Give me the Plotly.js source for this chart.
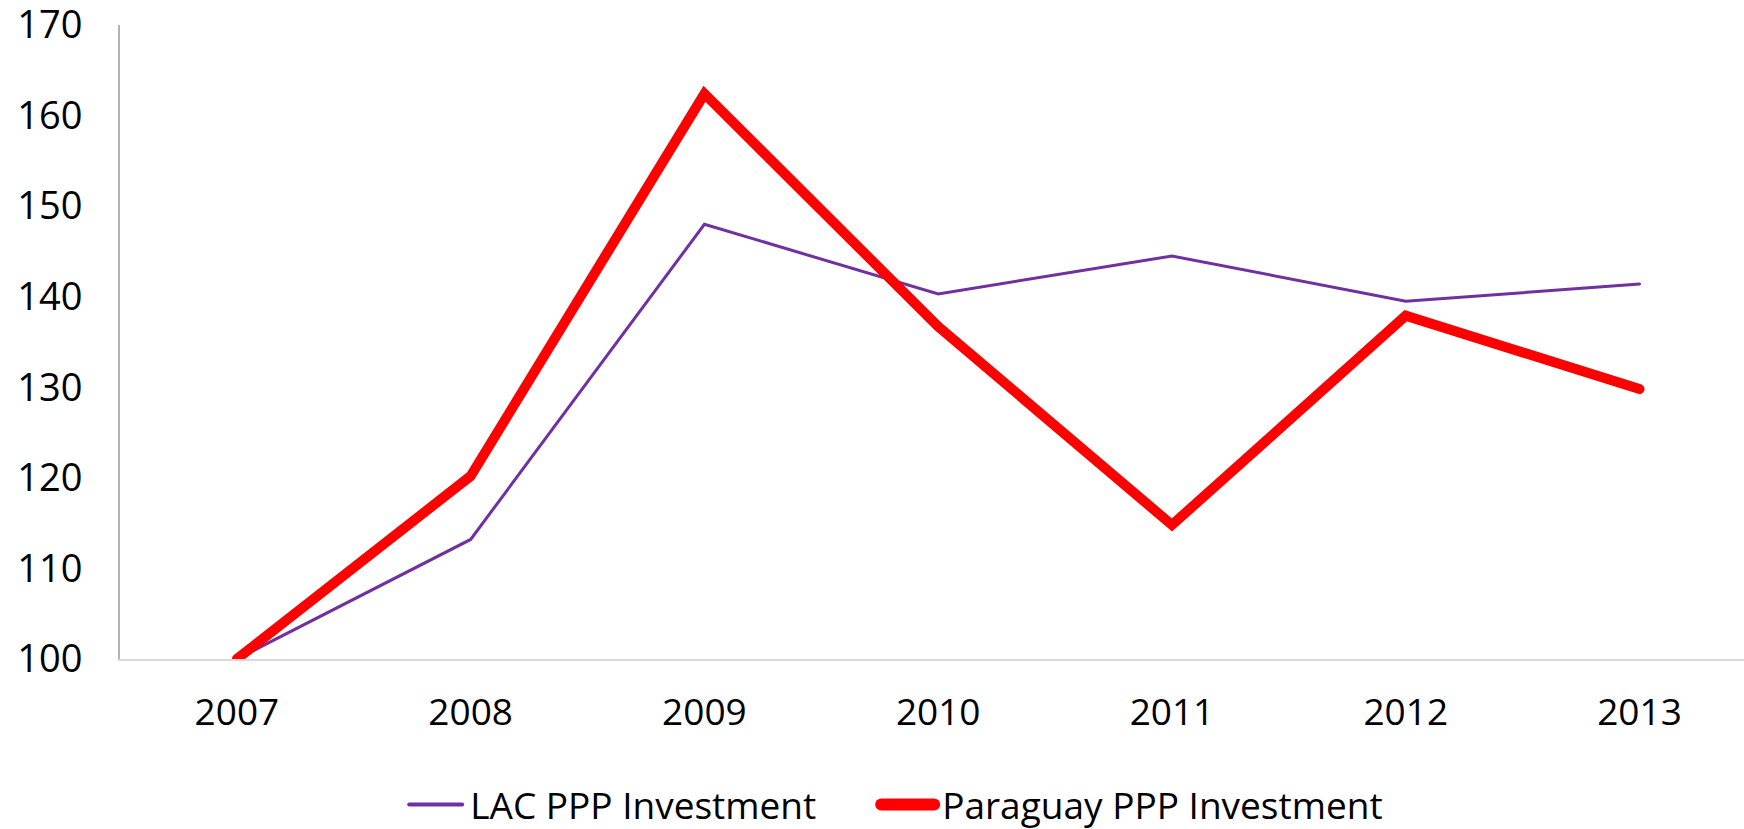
<!DOCTYPE html>
<html>
<head>
<meta charset="utf-8">
<script src="https://cdn.plot.ly/plotly-3.0.1.min.js"></script>
<style>
html,body{margin:0;padding:0;background:#fff;}
#chart{width:1744px;height:829px;}
.js-line{stroke-linecap:round;}
</style>
</head>
<body>
<div id="chart"></div>
<script>
const years = ['2007','2008','2009','2010','2011','2012','2013'];
const lacValues = [100, 113.2, 148.0, 140.3, 144.5, 139.5, 141.4];
const paraguayValues = [100, 120.2, 162.4, 136.7, 114.8, 137.9, 129.8];
const yTicks = [100,110,120,130,140,150,160,170];

const fontFam = 'Open Sans, sans-serif';
const traces = [
  {x: years, y: lacValues, name: 'LAC PPP Investment', type: 'scatter', mode: 'lines',
   line: {color: '#7030A0', width: 3}},
  {x: years, y: paraguayValues, name: 'Paraguay PPP Investment', type: 'scatter', mode: 'lines',
   line: {color: '#FF0000', width: 10}}
];
const layout = {
  width: 1744, height: 829,
  margin: {l: 120, r: 0, t: 25, b: 170, autoexpand: false},
  paper_bgcolor: '#fff', plot_bgcolor: '#fff',
  font: {family: fontFam, size: 38, color: '#000'},
  showlegend: true,
  legend: {orientation: 'h', x: 0.191, xanchor: 'left', yref: 'container', y: 0.029, yanchor: 'middle',
           font: {family: fontFam, size: 37, color: '#000'}, entrywidth: 427, entrywidthmode: 'pixels'},
  xaxis: {type: 'category', range: [-0.5, 6.447], showgrid: false, zeroline: false, automargin: false,
          showline: true, linecolor: '#d9d9d9', linewidth: 2, ticks: '', ticklabelstandoff: 20,
          tickfont: {size: 37}},
  yaxis: {range: [100, 170], tickmode: 'array', tickvals: yTicks, ticktext: yTicks.map(String),
          showgrid: false, zeroline: false, automargin: false,
          showline: true, linecolor: '#b3b3b3', linewidth: 2, ticks: 'outside', ticklen: 28,
          tickcolor: 'rgba(0,0,0,0)', tickfont: {size: 38}, ticklabeloverflow: 'allow'}
};
Plotly.newPlot('chart', traces, layout, {displayModeBar: false, staticPlot: true}).then(function(gd){
  // let legend content draw past its computed box
  gd.querySelectorAll('.legend [clip-path]').forEach(function(el){ el.removeAttribute('clip-path'); });
  var widths = [4, 12];
  gd.querySelectorAll('.legend .traces').forEach(function(tr, i){
    var txt = tr.querySelector('text.legendtext');
    var tx = txt ? parseFloat(txt.getAttribute('x')) : 40;
    tr.querySelectorAll('.legendlines path, .legendsymbols path').forEach(function(p){
      var d = p.getAttribute('d');
      if (d && /^M/.test(d) && /h/.test(d)) {
        p.setAttribute('d', 'M' + (tx - 61) + ',0h53');
        p.style.strokeLinecap = 'round';
        p.style.strokeWidth = widths[i] + 'px';
      }
    });
  });
});
</script>
</body>
</html>
